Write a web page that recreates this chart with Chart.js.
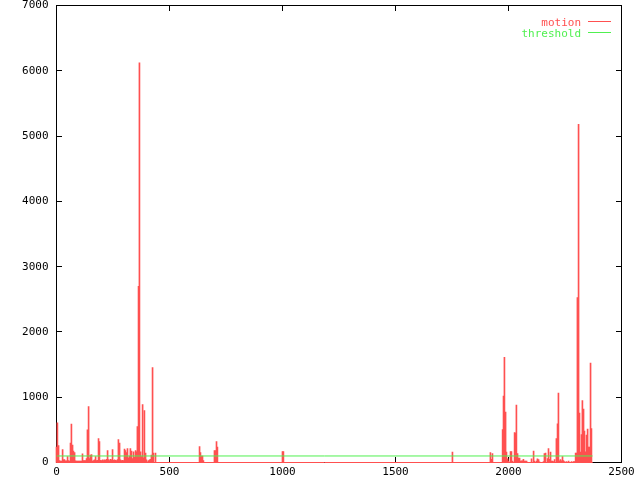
<!DOCTYPE html>
<html>
<head>
<meta charset="UTF-8">
<title>motion</title>
<script src="https://cdn.jsdelivr.net/npm/chart.js"></script>
<style>
    body { margin: 0; background: #fff; }
    canvas { display: block; }
</style>
</head>
<body>
<canvas id="plot" width="640" height="480"></canvas>
<script>
// frame numbers and motion values (impulses)
const motionFrames = [
    0, 4, 9, 13, 18, 22, 27, 31, 35, 40, 44, 49, 53, 58, 62, 66, 71, 75, 80, 84,
    88, 93, 97, 102, 106, 111, 115, 119, 124, 128, 133, 137, 142, 146, 150, 155, 159, 164, 168, 173,
    177, 181, 186, 190, 195, 199, 204, 208, 212, 217, 221, 226, 230, 235, 239, 243, 248, 252, 257, 261,
    265, 270, 274, 279, 283, 288, 292, 296, 301, 305, 310, 314, 319, 323, 327, 332, 336, 341, 345, 350,
    354, 358, 363, 367, 372, 376, 381, 385, 389, 394, 398, 403, 407, 412, 416, 420, 425, 429, 438,
    633, 637, 642, 646, 650, 699, 704, 708, 712, 1000, 1004, 1752, 1920, 1925, 1929,
    1974, 1978, 1982, 1987, 1991, 1996, 2000, 2009, 2013, 2018, 2027, 2031, 2035, 2040, 2044, 2049,
    2053, 2058, 2062, 2066, 2071, 2075, 2080, 2102, 2111, 2115, 2124, 2128, 2133, 2137, 2155, 2159,
    2164, 2173, 2177, 2181, 2186, 2190, 2195, 2199, 2204, 2212, 2217, 2221, 2226, 2230, 2235, 2239,
    2243, 2248, 2257, 2266, 2279, 2288, 2292, 2297, 2301, 2305, 2310, 2314, 2319, 2323, 2327, 2332,
    2336, 2341, 2345, 2350, 2354, 2358, 2363, 2367
];
const motionValues = [
    235, 608, 260, 30, 20, 20, 199, 40, 45, 25, 25, 92, 30, 20, 296, 587, 266, 174, 153, 25,
    20, 20, 20, 20, 20, 20, 133, 30, 30, 30, 60, 500, 858, 60, 112, 122, 20, 30, 40, 92,
    30, 35, 368, 322, 35, 30, 40, 30, 40, 35, 50, 184, 45, 30, 50, 40, 199, 35, 40, 35,
    30, 45, 352, 296, 40, 30, 35, 30, 204, 184, 153, 214, 72, 100, 214, 174, 60, 164, 82, 184,
    164, 551, 2700, 6120, 164, 90, 888, 72, 796, 143, 40, 10, 30, 40, 50, 112, 1455, 143, 143,
    245, 153, 100, 100, 30, 184, 184, 322, 235, 168, 168, 160, 153, 50, 138,
    505, 1016, 1610, 771, 158, 55, 20, 168, 168, 20, 460, 450, 878, 138, 66, 66,
    20, 25, 25, 50, 20, 20, 20, 56, 174, 20, 20, 56, 45, 10, 15, 138,
    143, 60, 214, 50, 158, 20, 20, 15, 45, 368, 592, 1062, 25, 45, 25, 92,
    30, 15, 15, 20, 15, 15, 15, 143, 143, 2525, 5180, 756, 158, 429, 950, 817,
    480, 164, 419, 511, 235, 235, 1521, 521
];
// zero-motion frames show as a red line along the bottom
const floorFrames = [0, 2372];
const floorValues = [0, 0];

const thresholdFrames = [0, 2372];
const thresholdValues = [100, 100];

const xTicks = [0, 500, 1000, 1500, 2000, 2500];
const yTicks = [0, 1000, 2000, 3000, 4000, 5000, 6000, 7000];

const RED = '#ff5050';
const GREEN = '#50f050';
const FONT = { family: '"DejaVu Sans Mono", monospace', size: 11 };

function points(xs, ys) {
    return xs.map((x, i) => ({ x: x, y: ys[i] }));
}

// no extra room for overhanging tick labels, the plot box is fixed like gnuplot's
function noOverhang(s) {
    s.paddingTop = 0;
    s.paddingBottom = 0;
    s.paddingLeft = 0;
    s.paddingRight = 0;
}

// gnuplot look: box border, inward ticks on all sides, key in the top right
const gnuplotFrame = {
    id: 'gnuplotFrame',
    beforeDatasetsDraw(chart) {
        const { ctx, chartArea: a, scales } = chart;
        ctx.save();
        ctx.strokeStyle = '#000';
        ctx.lineWidth = 1;
        ctx.strokeRect(a.left, a.top, a.right - a.left, a.bottom - a.top);
        ctx.beginPath();
        xTicks.forEach(v => {
            const px = Math.floor(scales.x.getPixelForValue(v)) + 0.5;
            ctx.moveTo(px, a.bottom - 5.5); ctx.lineTo(px, a.bottom);
            ctx.moveTo(px, a.top); ctx.lineTo(px, a.top + 5.5);
        });
        yTicks.forEach(v => {
            const py = Math.floor(scales.y.getPixelForValue(v)) + 0.5;
            ctx.moveTo(a.left, py); ctx.lineTo(a.left + 5.5, py);
            ctx.moveTo(a.right - 5.5, py); ctx.lineTo(a.right, py);
        });
        ctx.stroke();
        ctx.restore();
    },
    afterDraw(chart) {
        const { ctx, chartArea: a } = chart;
        ctx.save();
        ctx.font = FONT.size + 'px ' + FONT.family;
        ctx.textAlign = 'right';
        ctx.textBaseline = 'alphabetic';
        let row = 0;
        chart.data.datasets.forEach(ds => {
            if (ds.inKey === false) return;
            const y = a.top + 16 + row * 11;
            const colour = ds.type === 'bar' ? ds.backgroundColor : ds.borderColor;
            ctx.fillStyle = colour;
            ctx.fillText(ds.label, a.right - 40.5, y + 4.5);
            ctx.strokeStyle = colour;
            ctx.lineWidth = 1;
            ctx.beginPath();
            ctx.moveTo(a.right - 33.5, y);
            ctx.lineTo(a.right - 10.5, y);
            ctx.stroke();
            row++;
        });
        ctx.restore();
    }
};

new Chart(document.getElementById('plot'), {
    type: 'bar',
    data: {
        datasets: [
            {
                type: 'bar',
                label: 'motion',
                data: points(motionFrames, motionValues),
                backgroundColor: RED,
                borderWidth: 0,
                barThickness: 1,
                grouped: false,
                clip: 4,
                order: 1
            },
            {
                type: 'line',
                label: 'threshold',
                data: points(thresholdFrames, thresholdValues),
                borderColor: GREEN,
                borderWidth: 1,
                pointRadius: 0,
                order: 0
            },
            {
                type: 'line',
                label: 'motion',
                inKey: false,
                data: points(floorFrames, floorValues),
                borderColor: RED,
                borderWidth: 1,
                pointRadius: 0,
                clip: 4,
                order: 2
            }
        ]
    },
    options: {
        responsive: false,
        animation: false,
        devicePixelRatio: 1,
        layout: { padding: { top: 5.5, right: 18.5, left: 0, bottom: 0 } },
        plugins: {
            legend: { display: false },
            tooltip: { enabled: false }
        },
        scales: {
            x: {
                type: 'linear',
                offset: false,
                min: 0,
                max: 2500,
                grid: { display: false, drawTicks: false },
                border: { display: false },
                ticks: {
                    font: FONT, color: '#000', padding: 3, maxRotation: 0, autoSkip: false,
                    callback: v => String(v)
                },
                afterBuildTicks: s => { s.ticks = xTicks.map(v => ({ value: v })); },
                afterFit: s => { s.height = 17.5; noOverhang(s); }
            },
            y: {
                type: 'linear',
                min: 0,
                max: 7000,
                grid: { display: false, drawTicks: false },
                border: { display: false },
                ticks: {
                    font: FONT, color: '#000', padding: 8, autoSkip: false,
                    callback: v => String(v)
                },
                afterBuildTicks: s => { s.ticks = yTicks.map(v => ({ value: v })); },
                afterFit: s => { s.width = 56.5; noOverhang(s); }
            }
        }
    },
    plugins: [gnuplotFrame]
});
</script>
</body>
</html>
